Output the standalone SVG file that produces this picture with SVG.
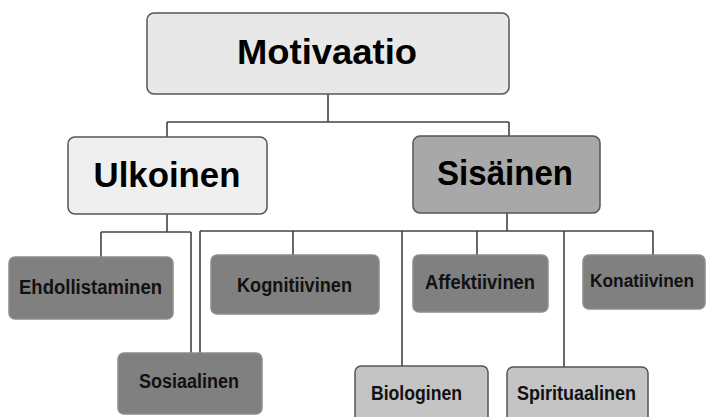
<svg xmlns="http://www.w3.org/2000/svg" width="707" height="417" viewBox="0 0 707 417">
<style>
.bg{fill:#ffffff}
.box{stroke:#555555;stroke-width:1.5}
.l1{fill:#e8e8e8}
.l2{fill:#efefef}
.mid{fill:#a8a8a8}
.dark{fill:#808080;stroke:#8c8c8c}
.light{fill:#c4c4c4}
.big{font-family:"Liberation Sans",Arial,sans-serif;font-weight:bold;font-size:35px;fill:#000;text-anchor:middle}
.small{font-family:"Liberation Sans",Arial,sans-serif;font-weight:bold;font-size:19.5px;fill:#111;text-anchor:middle}
.con{fill:none;stroke:#444444;stroke-width:1.6}
</style>
<rect class="bg" x="0" y="0" width="707" height="417"/>
<g id="connectors" class="con">
<path d="M328,94 V122 M167,122 H509 M167,122 V137 M509,122 V136"/>
<path d="M167,214 V232 M101,232 H191 M101,232 V257 M191,232 V353"/>
<path d="M507,213 V231 M200,231 H653 M200,231 V353 M293,231 V255 M402,231 V366 M477,231 V255 M564,231 V367 M653,231 V255"/>
</g>
<g id="motivaatio"><rect class="box l1" x="147" y="13" width="362" height="81" rx="7"/><text class="big" x="327" y="64" textLength="180" lengthAdjust="spacingAndGlyphs">Motivaatio</text></g>
<g id="ulkoinen"><rect class="box l2" x="68" y="137" width="199" height="77" rx="7"/><text class="big" x="167" y="187" textLength="147" lengthAdjust="spacingAndGlyphs">Ulkoinen</text></g>
<g id="sisainen"><rect class="box mid" x="413" y="136" width="187" height="77" rx="7"/><text class="big" x="505" y="185" textLength="136" lengthAdjust="spacingAndGlyphs">Sisäinen</text></g>
<g id="ehdollistaminen"><rect class="box dark" x="9" y="257" width="164" height="62" rx="6"/><text class="small" x="90.5" y="294" textLength="143" lengthAdjust="spacingAndGlyphs">Ehdollistaminen</text></g>
<g id="kognitiivinen"><rect class="box dark" x="211" y="255" width="168" height="59" rx="6"/><text class="small" x="294.5" y="292" textLength="115" lengthAdjust="spacingAndGlyphs">Kognitiivinen</text></g>
<g id="sosiaalinen"><rect class="box dark" x="118" y="353" width="144" height="61" rx="6"/><text class="small" x="189" y="388" textLength="100" lengthAdjust="spacingAndGlyphs">Sosiaalinen</text></g>
<g id="affektiivinen"><rect class="box dark" x="413" y="255" width="135" height="57" rx="6"/><text class="small" x="480" y="289" textLength="110" lengthAdjust="spacingAndGlyphs">Affektiivinen</text></g>
<g id="konatiivinen"><rect class="box dark" x="583" y="255" width="122" height="54" rx="6"/><text class="small" x="642" y="287" style="font-size:18px" textLength="104" lengthAdjust="spacingAndGlyphs">Konatiivinen</text></g>
<g id="biologinen"><rect class="box light" x="355" y="366" width="133" height="60" rx="6"/><text class="small" x="416.5" y="400" textLength="91" lengthAdjust="spacingAndGlyphs">Biologinen</text></g>
<g id="spirituaalinen"><rect class="box light" x="507" y="367" width="141" height="60" rx="6"/><text class="small" x="576.5" y="400" textLength="119" lengthAdjust="spacingAndGlyphs">Spirituaalinen</text></g>
</svg>
